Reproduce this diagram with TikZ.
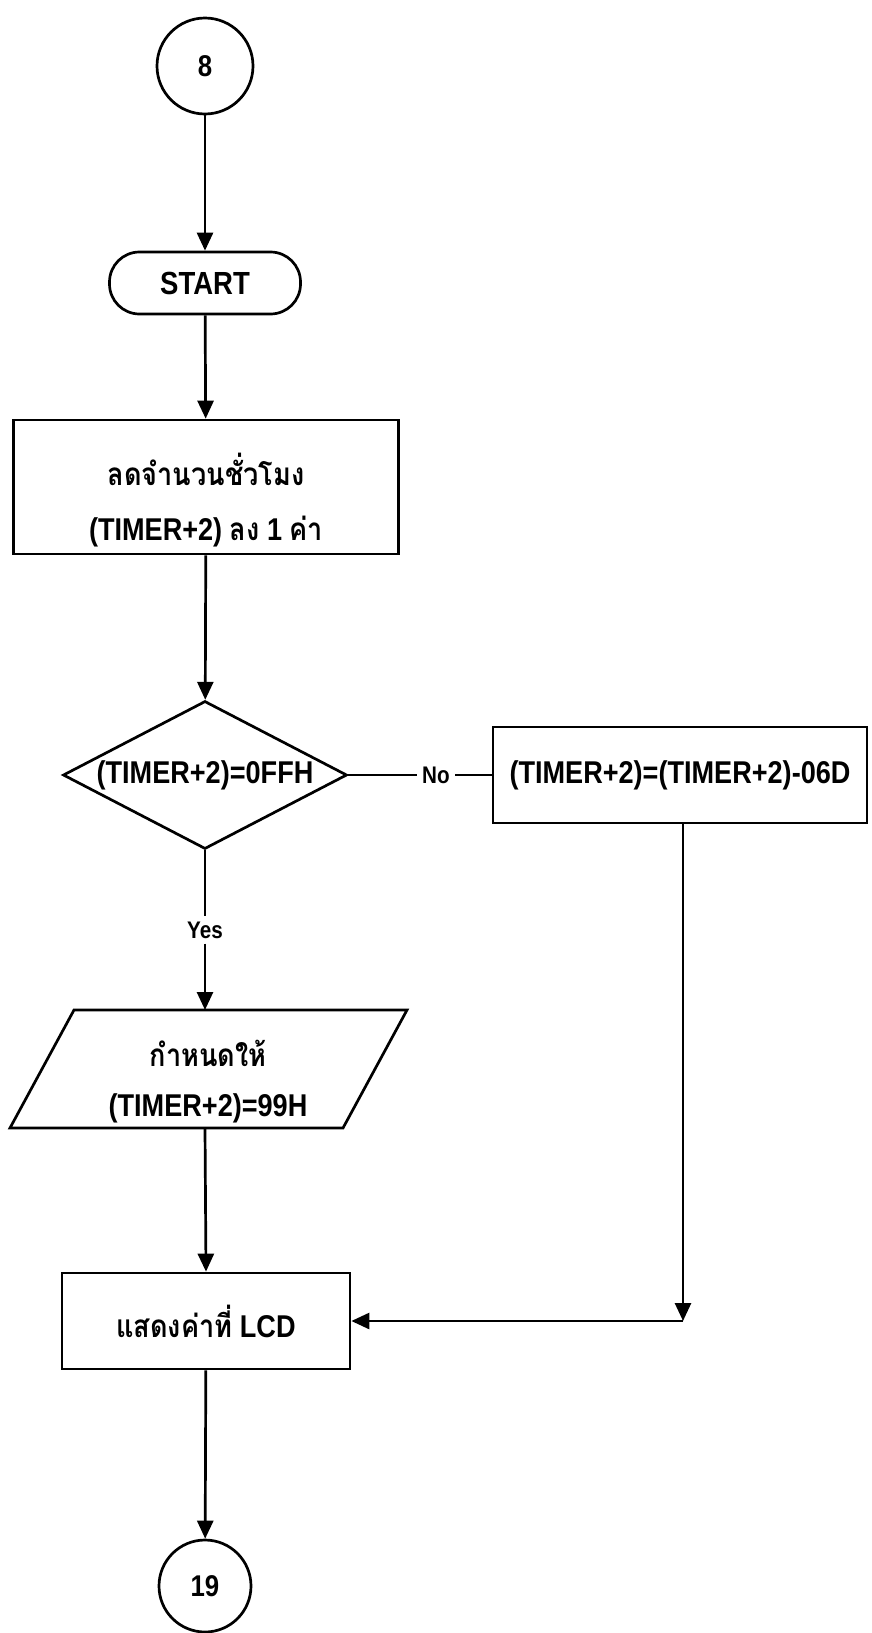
\documentclass[tikz,border=0pt]{standalone}
\usepackage{fontspec}
\setmainfont{Liberation Sans}[FakeStretch=0.86]
\newfontfamily\thai{Loma}[Script=Thai,FakeStretch=0.86,Scale=1.0]
\usetikzlibrary{shapes.geometric,arrows.meta}
\begin{document}
\begin{tikzpicture}[x=1pt,y=-1pt,line width=2.7pt,
  every node/.style={font=\fontsize{31.5}{38}\selectfont\bfseries},
  box/.style={draw,rectangle,inner sep=0pt,align=center},
  conn/.style={draw,circle,inner sep=0pt,font=\fontsize{30}{34}\selectfont\bfseries},
  arr/.style={-{Triangle[length=18pt,width=16pt]}},
  small/.style={font=\fontsize{24}{28}\selectfont\bfseries,inner sep=4pt}]
\useasboundingbox (0,0) rectangle (871,1633);
\node[conn,minimum size=96pt] (c8) at (205,66) {8};
\node[box,rounded corners=30pt,minimum width=191pt,minimum height=62pt,font=\fontsize{32}{36}\selectfont\bfseries] (start) at (205,283) {START};
\node[box,minimum width=385pt,minimum height=134pt] (p1) at (206,487) {};
\node[align=center,font=\fontsize{31.5}{55}\selectfont\bfseries] (p1t) at (206,500) {{\thai ลดจำนวนชั่วโมง}\\(TIMER+2) {\thai ลง} 1 {\thai ค่า}};
\node[diamond,draw,minimum width=284pt,minimum height=148pt,inner sep=0pt] (dec) at (205,775) {};
\node (dect) at (dec.center) {(TIMER+2)=0FFH};
\node[small] (no) at (436,775) {No};
\node[box,minimum width=374pt,minimum height=96pt] (rr) at (680,775) {(TIMER+2)=(TIMER+2)-06D};
\node[small] (yes) at (205,930) {Yes};
\coordinate (iotl) at (74,1010);
\coordinate (iotr) at (407,1010);
\coordinate (iobr) at (343,1128);
\coordinate (iobl) at (10,1128);
\draw (iotl) -- (iotr) -- (iobr) -- (iobl) -- cycle;
\coordinate (iotop) at (205,1010);
\coordinate (iobot) at (205,1128);
\node[align=center,font=\fontsize{31.5}{50}\selectfont\bfseries] (io) at (208,1082) {{\thai กำหนดให้}\\(TIMER+2)=99H};
\node[box,minimum width=288pt,minimum height=96pt] (lcd) at (206,1321) {{\thai แสดงค่าที่} LCD};
\node[conn,minimum size=92pt] (c19) at (205,1586) {19};
\coordinate (corner) at (683,1321);
\draw[arr] (c8) -- (start);
\draw[arr] (start) -- (p1);
\draw[arr] (p1) -- (dec);
\draw (dec.east) -- (no.west);
\draw (no.east) -- (rr.west);
\draw (dec.south) -- (yes.north);
\draw[arr] (yes.south) -- (iotop);
\draw[arr] (iobot) -- (lcd.north);
\draw[arr] (rr.south -| corner) -- (corner);
\draw[arr] (corner) -- (lcd.east);
\draw[arr] (lcd) -- (c19);
\end{tikzpicture}
\end{document}
